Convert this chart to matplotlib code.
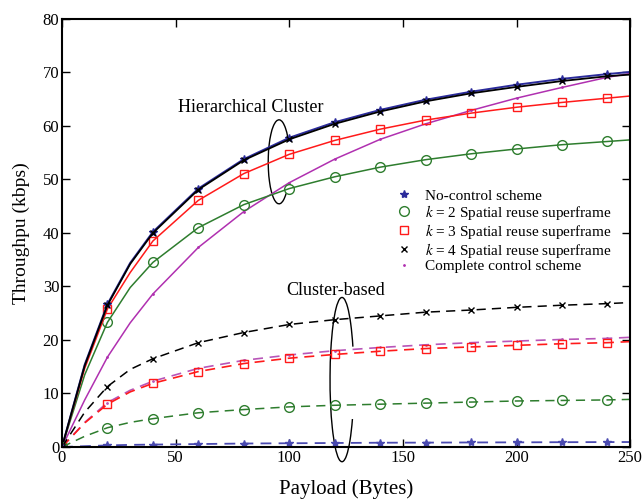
import matplotlib
matplotlib.use("Agg")
import matplotlib.pyplot as plt
from matplotlib.lines import Line2D
from matplotlib.patches import Arc

plt.rcParams["font.family"] = ["Liberation Serif", "DejaVu Serif"]
plt.rcParams["mathtext.fontset"] = "stix"

# ==== DATA ====
payload = [0, 10, 20, 30, 40, 60, 80, 100, 120, 140, 160, 180, 200, 220, 240, 250]
marker_idx = [0, 2, 4, 5, 6, 7, 8, 9, 10, 11, 12, 13, 14]

# Hierarchical cluster (solid lines)
hc_nocontrol = [0, 15.4, 26.7, 34.4, 40.2, 48.3, 53.8, 57.8, 60.7, 63.0, 64.9, 66.4, 67.7, 68.8, 69.7, 70.1]
hc_k2 = [0, 13.5, 23.3, 29.8, 34.5, 41.0, 45.3, 48.3, 50.5, 52.3, 53.7, 54.8, 55.7, 56.5, 57.1, 57.4]
hc_k3 = [0, 14.7, 25.8, 32.6, 38.5, 46.1, 51.1, 54.7, 57.3, 59.4, 61.1, 62.4, 63.5, 64.4, 65.2, 65.6]
hc_k4 = [0, 15.2, 26.5, 34.2, 40.0, 48.1, 53.6, 57.5, 60.4, 62.7, 64.6, 66.1, 67.3, 68.4, 69.3, 69.6]
hc_complete = [0, 8.8, 16.8, 23.2, 28.6, 37.3, 44.0, 49.4, 53.8, 57.5, 60.4, 62.9, 65.2, 67.2, 69.1, 69.8]

# Cluster-based (dashed lines)
cb_nocontrol = [0, 0.15, 0.3, 0.4, 0.45, 0.55, 0.65, 0.7, 0.75, 0.8, 0.82, 0.85, 0.87, 0.9, 0.92, 0.93]
cb_k2 = [0, 2.0, 3.6, 4.6, 5.3, 6.4, 7.0, 7.5, 7.8, 8.0, 8.2, 8.4, 8.6, 8.7, 8.8, 8.9]
cb_k3 = [0, 4.5, 8.0, 10.3, 11.9, 14.1, 15.6, 16.6, 17.3, 17.9, 18.4, 18.7, 19.0, 19.3, 19.5, 19.7]
cb_k4 = [0, 6.5, 11.3, 14.5, 16.5, 19.5, 21.4, 22.9, 23.8, 24.5, 25.2, 25.6, 26.1, 26.5, 26.8, 27.0]
cb_complete = [0, 4.6, 8.3, 10.6, 12.3, 14.7, 16.2, 17.2, 18.0, 18.6, 19.1, 19.5, 19.8, 20.1, 20.3, 20.5]

labels = ["No-control scheme",
          r"$k$ = 2 Spatial reuse superframe",
          r"$k$ = 3 Spatial reuse superframe",
          r"$k$ = 4 Spatial reuse superframe",
          "Complete control scheme"]

BLUE = "#2b2b9b"
GREEN = "#2e7d2e"
RED = "#ff1a1a"
BLACK = "black"
MAG = "#b030b0"

fig = plt.figure(figsize=(6.43, 4.99), dpi=100)
ax = fig.add_axes([0.0964, 0.1042, 0.8836, 0.8578])

mk = dict(markevery=marker_idx)
# solid
ax.plot(payload, hc_complete, "-", color=MAG, lw=1.1, marker=".", ms=2, **mk)
ax.plot(payload, hc_k2, "-", color=GREEN, lw=1.1, marker="o", ms=7, mfc="none", mec=GREEN, **mk)
ax.plot(payload, hc_k3, "-", color=RED, lw=1.1, marker="s", ms=6, mfc="none", mec=RED, **mk)
ax.plot(payload, hc_nocontrol, "-", color=BLUE, lw=1.4, marker="*", ms=6, **mk)
ax.plot(payload, hc_k4, "-", color=BLACK, lw=1.3, marker="x", ms=4, **mk)
# dashed
dash = (0, (6, 4))
ax.plot(payload, cb_complete, ls=dash, color="#b855b8", lw=1.2, marker=".", ms=2, **mk)
ax.plot(payload, cb_k3, ls=dash, color=RED, lw=1.2, marker="s", ms=6, mfc="none", mec=RED, **mk)
ax.plot(payload, cb_k2, ls=dash, color=GREEN, lw=1.1, marker="o", ms=7, mfc="none", mec=GREEN, **mk)
ax.plot(payload, cb_k4, ls=dash, color=BLACK, lw=1.1, marker="x", ms=4, **mk)
ax.plot(payload, cb_nocontrol, ls=dash, color="#4a4ab0", lw=1.3, marker="*", ms=6, **mk)

ax.set_xlim(0, 250)
ax.set_ylim(0, 80)
ax.set_xticks(range(0, 251, 50))
ax.set_yticks(range(0, 81, 10))
ax.tick_params(direction="in", top=True, right=True, length=6, width=1,
               labelsize=12, pad=2)
for s in ax.spines.values():
    s.set_linewidth(1.5)

ax.set_xlabel("Payload (Bytes)", fontsize=15, labelpad=10)
ax.set_ylabel("Throughpu (kbps)", fontsize=14, labelpad=9)

# legend with marker-only handles
handles = [
    Line2D([], [], ls="none", marker="*", color=BLUE, ms=6),
    Line2D([], [], ls="none", marker="o", mfc="none", mec=GREEN, ms=7),
    Line2D([], [], ls="none", marker="s", mfc="none", mec=RED, ms=6),
    Line2D([], [], ls="none", marker="x", color=BLACK, ms=4),
    Line2D([], [], ls="none", marker=".", color=MAG, ms=2),
]
ax.legend(handles, labels, loc="upper left", bbox_to_anchor=(0.575, 0.617),
          frameon=False, fontsize=11, handlelength=1.2, handletextpad=0.8,
          labelspacing=0.0, borderaxespad=0)

# group annotations
ax.text(83, 63.5, "Hierarchical Cluster", ha="center", va="center", fontsize=13)
ax.add_patch(Arc((95.5, 53.3), 9.5, 15.7, theta1=50, theta2=-62,
                 color="black", lw=1.0, clip_on=False))
ax.text(120.5, 29.3, "Cluster-based", ha="center", va="center", fontsize=13)
ax.add_patch(Arc((123.2, 12.6), 10.5, 30.7, theta1=52, theta2=-58,
                 color="black", lw=1.0, clip_on=False))

fig.savefig("out.png", dpi=100)
